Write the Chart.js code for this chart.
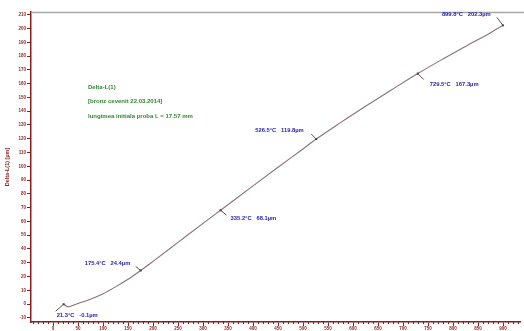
<!DOCTYPE html>
<html>
<head>
<meta charset="utf-8">
<script src="https://cdn.jsdelivr.net/npm/chart.js@4"></script>
<style>
  html, body { margin: 0; padding: 0; background: #fff; }
  #wrap { width: 524px; height: 331px; }
</style>
</head>
<body>
<div id="wrap"><canvas id="c" width="524" height="331"></canvas></div>
<script>
// Dilatation curve: temperature (°C) vs elongation Delta-L(1) (µm)
const temperatures = [21.3, 30, 50, 75, 100, 125, 150, 175.4, 200, 250, 300, 335.2, 400, 450, 500, 526.5, 575, 625, 675, 729.5, 775, 825, 875, 899.8];
const deltaL      = [-0.1, -2.0, 0.5, 3.5, 7.5, 12.5, 18.0, 24.4, 31.0, 44.8, 58.6, 68.1, 85.8, 99.3, 112.6, 119.8, 131.7, 143.6, 155.0, 167.3, 176.9, 187.0, 197.0, 202.3];

// Marked readings on the curve
const markTemps = [21.3, 175.4, 335.2, 526.5, 729.5, 899.8];
const markVals  = [-0.1, 24.4, 68.1, 119.8, 167.3, 202.3];

// Axis tick values
const xTickValues = [0, 50, 100, 150, 200, 250, 300, 350, 400, 450, 500, 550, 600, 650, 700, 750, 800, 850, 900];
const yTickValues = [-10, 0, 10, 20, 30, 40, 50, 60, 70, 80, 90, 100, 110, 120, 130, 140, 150, 160, 170, 180, 190, 200, 210];

const infoLines = ['Delta-L(1)', '[bronz cevenit 22.03.2014]', 'lungimea initiala proba L = 17.57 mm'];

const AXIS = '#8b1c1c';
const TXT = '#8b2626';
const FONT = '"Liberation Sans", Arial, sans-serif';

// label placement around each marker: [label dx, label dy, leader dx, leader dy]
const markLayout = [
  [-7, 11, -8, 7],
  [-56, -7, -5, -4],
  [10, 8, 6, 5],
  [-61, -9, -5, -5],
  [12, 11, 6, 6],
  [-61, -11, -6, -8]
];

const decor = {
  id: 'decor',
  afterDraw(chart) {
    const ctx = chart.ctx;
    const ca = chart.chartArea;
    const xs = chart.scales.x, ys = chart.scales.y;
    ctx.save();
    // top frame line
    ctx.strokeStyle = '#a8a8a8';
    ctx.lineWidth = 1.5;
    ctx.beginPath();
    ctx.moveTo(ca.left, ca.top + 0.5);
    ctx.lineTo(chart.width, ca.top + 0.5);
    ctx.stroke();
    // minor x ticks every 10 °C
    ctx.strokeStyle = AXIS;
    ctx.lineWidth = 1;
    for (let t = -40; t <= 930; t += 10) {
      if (t % 50 === 0) continue;
      const px = Math.round(xs.getPixelForValue(t)) + 0.5;
      ctx.beginPath();
      ctx.moveTo(px, ca.bottom - 1);
      ctx.lineTo(px, ca.bottom + 2);
      ctx.stroke();
    }
    // info text block
    ctx.fillStyle = '#2f8a2f';
    ctx.font = 'bold 6px ' + FONT;
    ctx.textBaseline = 'middle';
    infoLines.forEach((s, i) => ctx.fillText(s, 88, 87 + i * 14.5));
    // markers with labels
    ctx.font = 'bold 5.8px ' + FONT;
    markTemps.forEach((t, i) => {
      const v = markVals[i];
      const px = xs.getPixelForValue(t), py = ys.getPixelForValue(v);
      const [lx, ly, dx, dy] = markLayout[i];
      ctx.strokeStyle = '#555555';
      ctx.lineWidth = 1;
      ctx.beginPath();
      ctx.moveTo(px, py);
      ctx.lineTo(px + dx, py + dy);
      ctx.stroke();
      ctx.fillStyle = '#444';
      ctx.fillRect(px - 1, py - 1, 2, 2);
      ctx.fillStyle = '#2525b0';
      ctx.textAlign = 'left';
      ctx.fillText(t.toFixed(1) + '°C   ' + v.toFixed(1) + 'µm', px + lx, py + ly);
    });
    ctx.restore();
  }
};

new Chart(document.getElementById('c'), {
  type: 'line',
  data: {
    datasets: [{
      data: temperatures.map((t, i) => ({ x: t, y: deltaL[i] })),
      borderColor: '#8f6f74',
      borderWidth: 1.1,
      pointRadius: 0,
      tension: 0.4,
      cubicInterpolationMode: 'monotone',
      fill: false
    }]
  },
  options: {
    responsive: false,
    animation: false,
    layout: { padding: { top: 12, right: 4, left: 0, bottom: 0 } },
    plugins: { legend: { display: false }, tooltip: { enabled: false } },
    scales: {
      x: {
        type: 'linear',
        min: -44,
        max: 934,
        afterBuildTicks: s => { s.ticks = xTickValues.map(v => ({ value: v })); },
        afterFit: s => { s.height = 9; },
        grid: { drawOnChartArea: false, tickLength: 4, tickColor: AXIS, tickWidth: 1 },
        border: { color: AXIS, width: 1.5 },
        ticks: { color: TXT, font: { size: 4.5, weight: 'bold', family: FONT }, padding: 0, maxRotation: 0, autoSkip: false }
      },
      y: {
        type: 'linear',
        min: -13,
        max: 212,
        afterBuildTicks: s => { s.ticks = yTickValues.map(v => ({ value: v })); },
        afterFit: s => { s.width = 31; },
        grid: { drawOnChartArea: false, tickLength: 4, tickColor: AXIS, tickWidth: 1 },
        border: { color: AXIS, width: 1.5 },
        title: { display: true, text: 'Delta-L(1) [µm]', color: TXT, font: { size: 5.5, weight: 'bold', family: FONT }, padding: { top: 4, bottom: 2 } },
        ticks: { color: TXT, font: { size: 4.5, weight: 'bold', family: FONT }, padding: 1, autoSkip: false }
      }
    }
  },
  plugins: [decor]
});
</script>
</body>
</html>
